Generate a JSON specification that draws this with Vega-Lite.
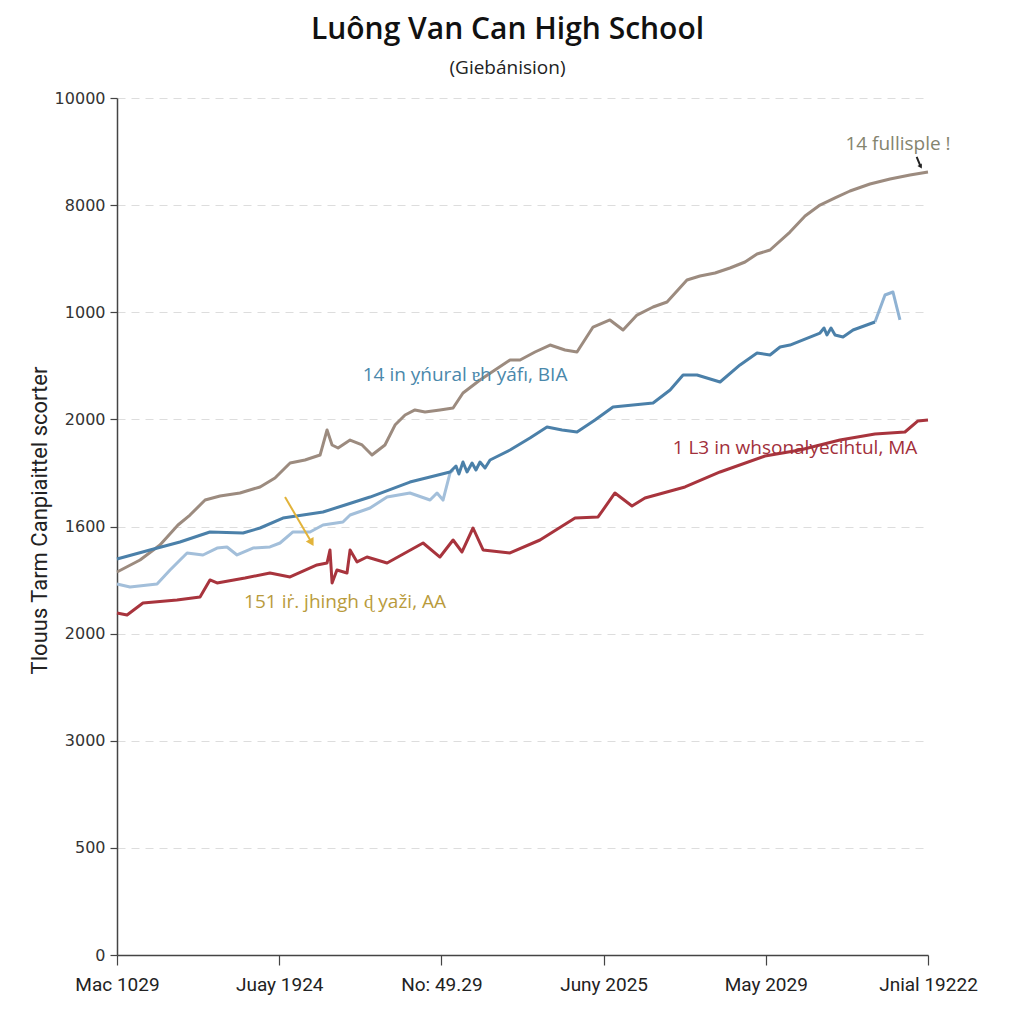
{
  "$schema": "https://vega.github.io/schema/vega-lite/v6.json",
  "width": 811,
  "height": 857,
  "autosize": "none",
  "padding": {"left": 117, "top": 98, "right": 96, "bottom": 69},
  "background": "white",
  "title": {
    "text": "Luông Van Can High School",
    "subtitle": "(Giebánision)",
    "anchor": "middle",
    "frame": "group",
    "dx": -15,
    "offset": 12,
    "font": "Open Sans",
    "fontSize": 30,
    "fontWeight": 600,
    "color": "#111111",
    "subtitleFont": "Open Sans",
    "subtitleFontSize": 19,
    "subtitleColor": "#222222",
    "subtitlePadding": 14
  },
  "config": {"view": {"stroke": null}},
  "resolve": {"scale": {"color": "independent", "size": "independent"}},
  "datasets": {
    "lines": [
      {"s": "brown", "x": 0, "y": 3.575}, {"s": "brown", "x": 0.142, "y": 3.687}, {"s": "brown", "x": 0.265, "y": 3.827}, {"s": "brown", "x": 0.376, "y": 4.014}, {"s": "brown", "x": 0.45, "y": 4.107}, {"s": "brown", "x": 0.543, "y": 4.247}, {"s": "brown", "x": 0.635, "y": 4.285}, {"s": "brown", "x": 0.758, "y": 4.313}, {"s": "brown", "x": 0.882, "y": 4.369}, {"s": "brown", "x": 0.974, "y": 4.453}, {"s": "brown", "x": 1.067, "y": 4.593}, {"s": "brown", "x": 1.159, "y": 4.621}, {"s": "brown", "x": 1.252, "y": 4.667}, {"s": "brown", "x": 1.295, "y": 4.901}, {"s": "brown", "x": 1.326, "y": 4.761}, {"s": "brown", "x": 1.363, "y": 4.733}, {"s": "brown", "x": 1.437, "y": 4.807}, {"s": "brown", "x": 1.511, "y": 4.761}, {"s": "brown", "x": 1.572, "y": 4.667}, {"s": "brown", "x": 1.652, "y": 4.761}, {"s": "brown", "x": 1.714, "y": 4.947}, {"s": "brown", "x": 1.776, "y": 5.041}, {"s": "brown", "x": 1.837, "y": 5.088}, {"s": "brown", "x": 1.899, "y": 5.069}, {"s": "brown", "x": 1.991, "y": 5.088}, {"s": "brown", "x": 2.072, "y": 5.106}, {"s": "brown", "x": 2.133, "y": 5.246}, {"s": "brown", "x": 2.238, "y": 5.368}, {"s": "brown", "x": 2.33, "y": 5.461}, {"s": "brown", "x": 2.423, "y": 5.554}, {"s": "brown", "x": 2.485, "y": 5.554}, {"s": "brown", "x": 2.577, "y": 5.629}, {"s": "brown", "x": 2.67, "y": 5.694}, {"s": "brown", "x": 2.762, "y": 5.648}, {"s": "brown", "x": 2.836, "y": 5.629}, {"s": "brown", "x": 2.935, "y": 5.862}, {"s": "brown", "x": 3.039, "y": 5.928}, {"s": "brown", "x": 3.12, "y": 5.834}, {"s": "brown", "x": 3.206, "y": 5.974}, {"s": "brown", "x": 3.305, "y": 6.049}, {"s": "brown", "x": 3.391, "y": 6.096}, {"s": "brown", "x": 3.514, "y": 6.301}, {"s": "brown", "x": 3.594, "y": 6.338}, {"s": "brown", "x": 3.687, "y": 6.366}, {"s": "brown", "x": 3.779, "y": 6.413}, {"s": "brown", "x": 3.872, "y": 6.469}, {"s": "brown", "x": 3.946, "y": 6.544}, {"s": "brown", "x": 4.026, "y": 6.581}, {"s": "brown", "x": 4.149, "y": 6.749}, {"s": "brown", "x": 4.242, "y": 6.899}, {"s": "brown", "x": 4.334, "y": 7.001}, {"s": "brown", "x": 4.427, "y": 7.067}, {"s": "brown", "x": 4.519, "y": 7.132}, {"s": "brown", "x": 4.642, "y": 7.197}, {"s": "brown", "x": 4.766, "y": 7.244}, {"s": "brown", "x": 4.889, "y": 7.281}, {"s": "brown", "x": 5.0, "y": 7.309},
      {"s": "light", "x": 0, "y": 3.463}, {"s": "light", "x": 0.08, "y": 3.435}, {"s": "light", "x": 0.247, "y": 3.463}, {"s": "light", "x": 0.327, "y": 3.594}, {"s": "light", "x": 0.432, "y": 3.753}, {"s": "light", "x": 0.53, "y": 3.734}, {"s": "light", "x": 0.617, "y": 3.799}, {"s": "light", "x": 0.678, "y": 3.809}, {"s": "light", "x": 0.74, "y": 3.734}, {"s": "light", "x": 0.838, "y": 3.799}, {"s": "light", "x": 0.943, "y": 3.809}, {"s": "light", "x": 1.005, "y": 3.846}, {"s": "light", "x": 1.085, "y": 3.949}, {"s": "light", "x": 1.19, "y": 3.949}, {"s": "light", "x": 1.27, "y": 4.014}, {"s": "light", "x": 1.393, "y": 4.042}, {"s": "light", "x": 1.437, "y": 4.107}, {"s": "light", "x": 1.56, "y": 4.173}, {"s": "light", "x": 1.665, "y": 4.275}, {"s": "light", "x": 1.806, "y": 4.313}, {"s": "light", "x": 1.93, "y": 4.247}, {"s": "light", "x": 1.973, "y": 4.313}, {"s": "light", "x": 2.01, "y": 4.247}, {"s": "light", "x": 2.053, "y": 4.499}, {"s": "light", "x": 2.072, "y": 4.527},
      {"s": "light_end", "x": 4.673, "y": 5.909}, {"s": "light_end", "x": 4.735, "y": 6.161}, {"s": "light_end", "x": 4.784, "y": 6.189}, {"s": "light_end", "x": 4.827, "y": 5.928},
      {"s": "blue", "x": 0, "y": 3.697}, {"s": "blue", "x": 0.203, "y": 3.781}, {"s": "blue", "x": 0.388, "y": 3.855}, {"s": "blue", "x": 0.573, "y": 3.949}, {"s": "blue", "x": 0.777, "y": 3.939}, {"s": "blue", "x": 0.882, "y": 3.986}, {"s": "blue", "x": 1.023, "y": 4.079}, {"s": "blue", "x": 1.27, "y": 4.135}, {"s": "blue", "x": 1.406, "y": 4.201}, {"s": "blue", "x": 1.56, "y": 4.275}, {"s": "blue", "x": 1.806, "y": 4.415}, {"s": "blue", "x": 1.93, "y": 4.462}, {"s": "blue", "x": 2.053, "y": 4.509}, {"s": "blue", "x": 2.09, "y": 4.565}, {"s": "blue", "x": 2.108, "y": 4.49}, {"s": "blue", "x": 2.133, "y": 4.602}, {"s": "blue", "x": 2.158, "y": 4.509}, {"s": "blue", "x": 2.189, "y": 4.593}, {"s": "blue", "x": 2.213, "y": 4.527}, {"s": "blue", "x": 2.238, "y": 4.602}, {"s": "blue", "x": 2.269, "y": 4.546}, {"s": "blue", "x": 2.3, "y": 4.621}, {"s": "blue", "x": 2.423, "y": 4.714}, {"s": "blue", "x": 2.546, "y": 4.826}, {"s": "blue", "x": 2.651, "y": 4.929}, {"s": "blue", "x": 2.744, "y": 4.901}, {"s": "blue", "x": 2.836, "y": 4.882}, {"s": "blue", "x": 2.947, "y": 4.994}, {"s": "blue", "x": 3.058, "y": 5.116}, {"s": "blue", "x": 3.305, "y": 5.153}, {"s": "blue", "x": 3.41, "y": 5.274}, {"s": "blue", "x": 3.49, "y": 5.414}, {"s": "blue", "x": 3.576, "y": 5.414}, {"s": "blue", "x": 3.718, "y": 5.349}, {"s": "blue", "x": 3.841, "y": 5.508}, {"s": "blue", "x": 3.946, "y": 5.62}, {"s": "blue", "x": 4.026, "y": 5.601}, {"s": "blue", "x": 4.088, "y": 5.676}, {"s": "blue", "x": 4.149, "y": 5.694}, {"s": "blue", "x": 4.334, "y": 5.806}, {"s": "blue", "x": 4.359, "y": 5.853}, {"s": "blue", "x": 4.377, "y": 5.788}, {"s": "blue", "x": 4.402, "y": 5.853}, {"s": "blue", "x": 4.427, "y": 5.788}, {"s": "blue", "x": 4.476, "y": 5.769}, {"s": "blue", "x": 4.538, "y": 5.834}, {"s": "blue", "x": 4.673, "y": 5.909},
      {"s": "red", "x": 0, "y": 3.193}, {"s": "red", "x": 0.062, "y": 3.174}, {"s": "red", "x": 0.16, "y": 3.286}, {"s": "red", "x": 0.37, "y": 3.314}, {"s": "red", "x": 0.512, "y": 3.342}, {"s": "red", "x": 0.573, "y": 3.501}, {"s": "red", "x": 0.617, "y": 3.473}, {"s": "red", "x": 0.789, "y": 3.519}, {"s": "red", "x": 0.943, "y": 3.566}, {"s": "red", "x": 1.067, "y": 3.529}, {"s": "red", "x": 1.233, "y": 3.641}, {"s": "red", "x": 1.295, "y": 3.659}, {"s": "red", "x": 1.313, "y": 3.781}, {"s": "red", "x": 1.326, "y": 3.473}, {"s": "red", "x": 1.356, "y": 3.594}, {"s": "red", "x": 1.418, "y": 3.566}, {"s": "red", "x": 1.437, "y": 3.781}, {"s": "red", "x": 1.48, "y": 3.669}, {"s": "red", "x": 1.541, "y": 3.715}, {"s": "red", "x": 1.665, "y": 3.659}, {"s": "red", "x": 1.887, "y": 3.846}, {"s": "red", "x": 1.991, "y": 3.715}, {"s": "red", "x": 2.072, "y": 3.874}, {"s": "red", "x": 2.127, "y": 3.762}, {"s": "red", "x": 2.195, "y": 3.986}, {"s": "red", "x": 2.257, "y": 3.781}, {"s": "red", "x": 2.423, "y": 3.753}, {"s": "red", "x": 2.608, "y": 3.874}, {"s": "red", "x": 2.824, "y": 4.079}, {"s": "red", "x": 2.966, "y": 4.089}, {"s": "red", "x": 3.07, "y": 4.313}, {"s": "red", "x": 3.175, "y": 4.191}, {"s": "red", "x": 3.255, "y": 4.266}, {"s": "red", "x": 3.502, "y": 4.369}, {"s": "red", "x": 3.718, "y": 4.509}, {"s": "red", "x": 3.995, "y": 4.658}, {"s": "red", "x": 4.211, "y": 4.714}, {"s": "red", "x": 4.457, "y": 4.807}, {"s": "red", "x": 4.673, "y": 4.863}, {"s": "red", "x": 4.858, "y": 4.882}, {"s": "red", "x": 4.938, "y": 4.985}, {"s": "red", "x": 5.0, "y": 4.994}
    ],
    "notes": [
      {"k": "top", "x": 4.815, "y": 7.571, "t": "14 fullisple !"},
      {"k": "blue", "x": 2.146, "y": 5.414, "t": "14 in ỵńural ɐh yáfı, BIA"},
      {"k": "red", "x": 4.18, "y": 4.733, "t": "1 L3 in whsonalyecihtul, MA"},
      {"k": "gold", "x": 1.406, "y": 3.295, "t": "151 iṙ. jhingh ɖ yaži, AA"}
    ],
    "arrows": [
      {"k": "gold", "x": 1.036, "y": 4.275, "x2": 1.2, "y2": 3.85},
      {"k": "top", "x": 4.93, "y": 7.45, "x2": 4.955, "y2": 7.36}
    ]
  },
  "layer": [
    {
      "data": {"name": "lines"},
      "mark": {"type": "line", "strokeWidth": 3, "strokeJoin": "round"},
      "encoding": {
        "x": {
          "field": "x", "type": "quantitative",
          "scale": {"domain": [0, 5], "nice": false, "zero": false},
          "axis": {
            "values": [0, 1, 2, 3, 4, 5],
            "labelExpr": "['Mac 1029','Juay 1924','No: 49.29','Juny 2025','May 2029','Jnial 19222'][datum.value]",
            "title": null, "grid": false,
            "domainColor": "#444444", "domainWidth": 1.5,
            "tickColor": "#444444", "tickWidth": 1.2, "tickSize": 10,
            "labelFont": "Liberation Sans Narrow, Roboto", "labelFontSize": 19,
            "labelColor": "#222222", "labelPadding": 10, "labelFlush": false
          }
        },
        "y": {
          "field": "y", "type": "quantitative",
          "scale": {"domain": [0, 8], "nice": false, "zero": false},
          "axis": {
            "values": [0, 1, 2, 3, 4, 5, 6, 7, 8],
            "labelExpr": "['0','500','3000','2000','1600','2000','1000','8000','10000'][datum.value]",
            "title": "Tlouus Tarm Canpiaittel scorter",
            "titleFont": "Liberation Sans Narrow, Roboto", "titleFontSize": 22, "titleFontWeight": "normal",
            "titleColor": "#222222", "titleX": -78, "titleY": 422, "titleAngle": -90,
            "titleAlign": "center", "titleBaseline": "middle",
            "grid": true, "gridColor": "#dddddd", "gridDash": [8, 6], "gridWidth": 1,
            "domainColor": "#444444", "domainWidth": 1.5,
            "tickColor": "#444444", "tickWidth": 1.2, "tickSize": 7,
            "labelFont": "DejaVu Sans", "labelFontSize": 16, "labelColor": "#333333", "labelPadding": 5
          }
        },
        "color": {
          "field": "s", "type": "nominal", "legend": null,
          "scale": {"domain": ["brown", "light", "light_end", "blue", "red"], "range": ["#9c8b7f", "#a3bfda", "#8fb2d3", "#4b80a9", "#a8343d"]}
        },
        "detail": {"field": "s"}
      }
    },
    {
      "data": {"name": "arrows"},
      "mark": {"type": "rule", "strokeWidth": 2},
      "encoding": {
        "x": {"field": "x", "type": "quantitative"},
        "y": {"field": "y", "type": "quantitative"},
        "x2": {"field": "x2"},
        "y2": {"field": "y2"},
        "color": {"field": "k", "type": "nominal", "legend": null, "scale": {"domain": ["gold", "top"], "range": ["#e2b33a", "#222222"]}}
      }
    },
    {
      "data": {"name": "arrows"},
      "mark": {"type": "point", "shape": "triangle-down", "filled": true, "opacity": 1, "angle": 330},
      "encoding": {
        "x": {"field": "x2", "type": "quantitative"},
        "y": {"field": "y2", "type": "quantitative"},
        "color": {"field": "k", "type": "nominal", "legend": null, "scale": {"domain": ["gold", "top"], "range": ["#e2b33a", "#222222"]}},
        "size": {"field": "k", "type": "nominal", "legend": null, "scale": {"domain": ["gold", "top"], "range": [80, 25]}}
      }
    },
    {
      "data": {"name": "notes"},
      "mark": {"type": "text", "font": "Open Sans", "fontSize": 19, "align": "center", "baseline": "middle"},
      "encoding": {
        "x": {"field": "x", "type": "quantitative"},
        "y": {"field": "y", "type": "quantitative"},
        "text": {"field": "t"},
        "color": {"field": "k", "type": "nominal", "legend": null, "scale": {"domain": ["top", "blue", "red", "gold"], "range": ["#84846e", "#4a88ab", "#a2303b", "#b99b3c"]}}
      }
    }
  ]
}
